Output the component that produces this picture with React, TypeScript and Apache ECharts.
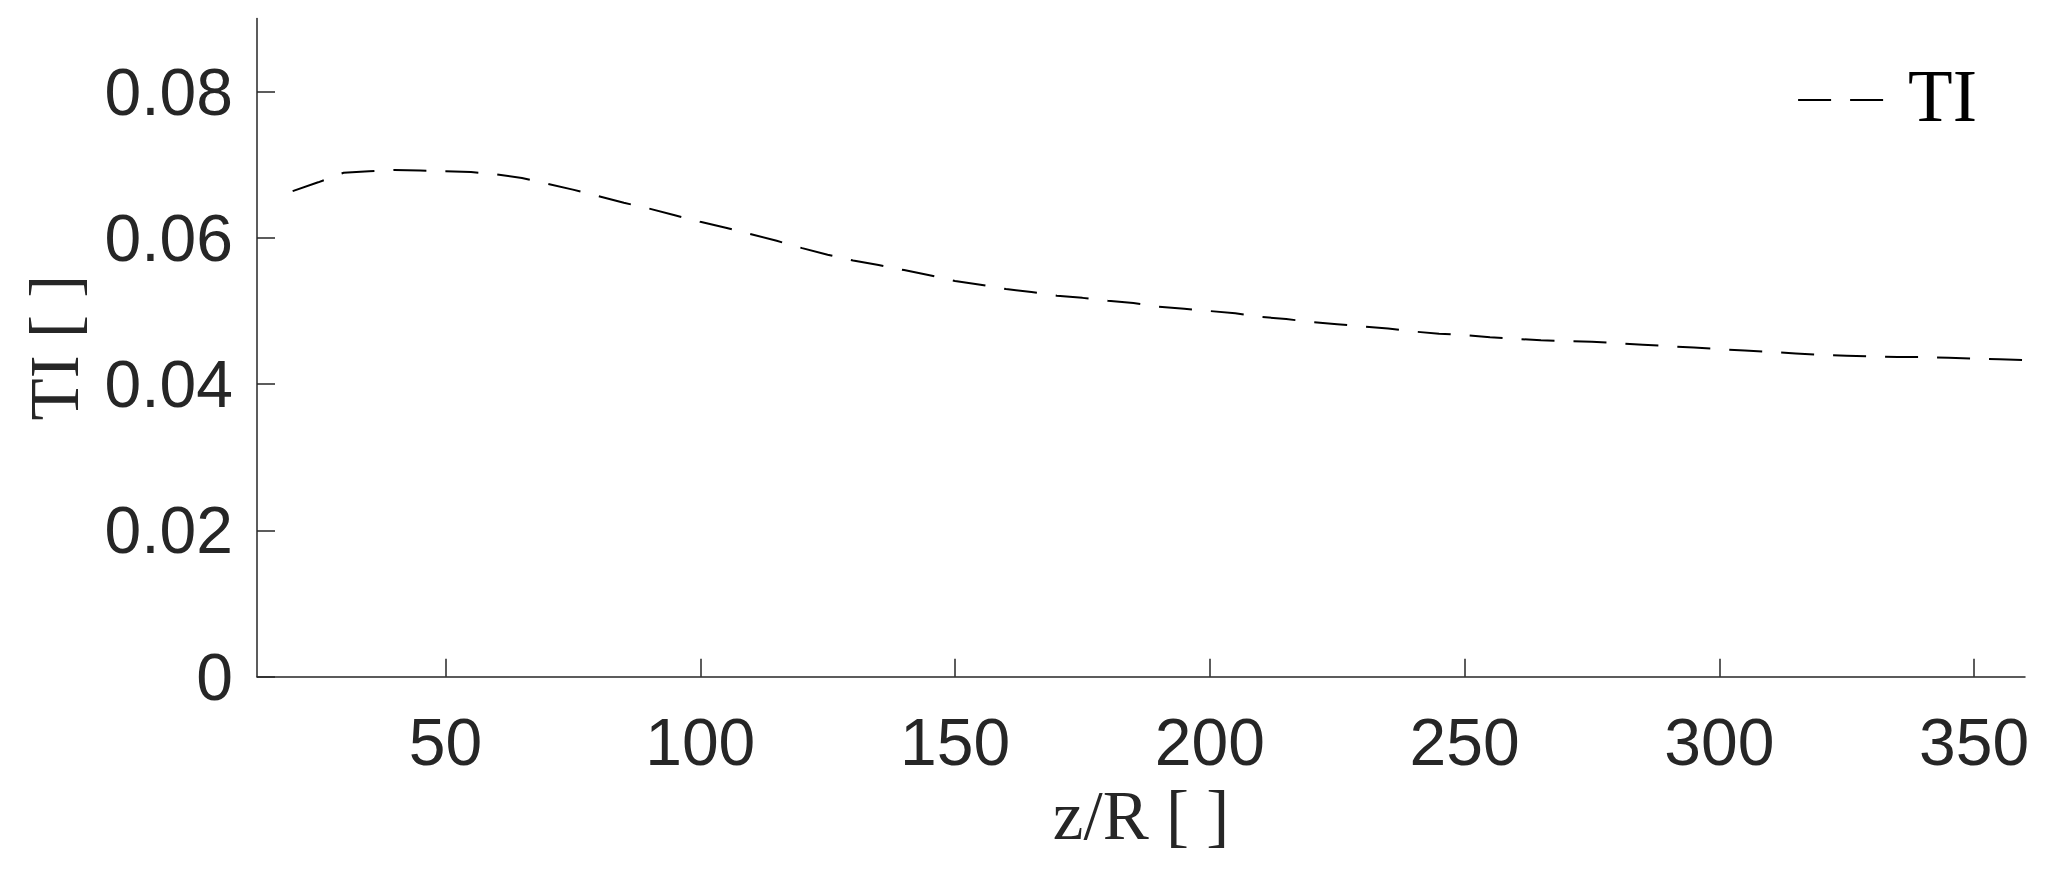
import React, { useEffect, useRef } from "react";
import * as echarts from "echarts";

const xValues = [
  20, 25, 30, 35, 40, 45, 50, 55, 60, 65, 70, 75, 80, 85, 90, 95, 100, 105, 110, 115, 120, 125, 130,
  135, 140, 145, 150, 155, 160, 165, 170, 175, 180, 185, 190, 195, 200, 205, 210, 215, 220, 225, 230,
  235, 240, 245, 250, 255, 260, 265, 270, 275, 280, 285, 290, 295, 300, 305, 310, 315, 320, 325, 330,
  335, 340, 345, 350, 355, 360,
];
const tiValues = [
  0.0664, 0.0676, 0.0689, 0.0691, 0.0693, 0.0692, 0.0691, 0.069, 0.0687, 0.0682, 0.0674, 0.0666,
  0.0657, 0.0648, 0.064, 0.0631, 0.0622, 0.0614, 0.0605, 0.0596, 0.0586, 0.0577, 0.0569, 0.0563,
  0.0556, 0.0549, 0.0541, 0.0536, 0.053, 0.0526, 0.0521, 0.0518, 0.0514, 0.0511, 0.0506, 0.0503,
  0.05, 0.0497, 0.0492, 0.0489, 0.0485, 0.0482, 0.0479, 0.0476, 0.0472, 0.0469, 0.0467, 0.0464,
  0.0462, 0.046, 0.0459, 0.0458, 0.0456, 0.0454, 0.0452, 0.045, 0.0448, 0.0446, 0.0444, 0.0442,
  0.044, 0.0439, 0.0438, 0.0437, 0.0437, 0.0436, 0.0435, 0.0434, 0.0433,
];
const xTicks = [50, 100, 150, 200, 250, 300, 350];
const yTicks = [0, 0.02, 0.04, 0.06, 0.08];
const seriesName = "TI";
const xName = "z/R [ ]";
const yName = "TI [ ]";

const AXIS_COLOR = "#262626";
const SANS = "'Liberation Sans', Arial, Helvetica, sans-serif";
const SERIF = "'Liberation Serif', 'Times New Roman', serif";
const DASH = [33, 19];

export default function App() {
  const ref = useRef<HTMLDivElement>(null);

  useEffect(() => {
    if (!ref.current) return;
    const chart = echarts.init(ref.current, undefined, { renderer: "svg" });
    const data = xValues.map((x, i) => [x, tiValues[i]]);
    chart.setOption({
      animation: false,
      backgroundColor: "#ffffff",
      grid: {
        left: 257,
        right: 22,
        top: 18.5,
        bottom: 200.3,
        containLabel: false,
        outerBoundsMode: "none",
      },
      graphic: [
        {
          type: "group",
          right: 70,
          top: 60,
          children: [
            {
              type: "line",
              shape: { x1: 0, y1: 28, x2: 87, y2: 28 },
              style: { stroke: "#000000", lineWidth: 2, lineDash: DASH },
            },
            {
              type: "text",
              x: 110,
              y: 24.5,
              style: {
                text: seriesName,
                fontFamily: SERIF,
                fontSize: 73,
                fill: "#000000",
                align: "left",
                verticalAlign: "middle",
                textAlign: "left",
                textVerticalAlign: "middle",
              },
            },
          ],
        },
      ],
      xAxis: {
        type: "value",
        min: 13,
        max: 360,
        name: xName,
        nameLocation: "middle",
        nameGap: 105,
        nameTextStyle: { fontFamily: SERIF, fontSize: 69, color: AXIS_COLOR },
        axisLine: { show: true, onZero: false, lineStyle: { color: AXIS_COLOR, width: 1.5 } },
        axisTick: {
          show: true,
          inside: true,
          length: 18,
          customValues: xTicks,
          lineStyle: { color: AXIS_COLOR, width: 1.5 },
        },
        axisLabel: {
          show: true,
          margin: 32,
          customValues: xTicks,
          fontFamily: SANS,
          fontSize: 66,
          color: AXIS_COLOR,
          formatter: (v: number) => String(v),
        },
        splitLine: { show: false },
      },
      yAxis: {
        type: "value",
        min: 0,
        max: 0.09,
        name: yName,
        nameLocation: "middle",
        nameRotate: 90,
        nameGap: 168,
        nameTextStyle: { fontFamily: SERIF, fontSize: 69, color: AXIS_COLOR },
        axisLine: { show: true, onZero: false, lineStyle: { color: AXIS_COLOR, width: 1.5 } },
        axisTick: {
          show: true,
          inside: true,
          length: 18,
          customValues: yTicks,
          lineStyle: { color: AXIS_COLOR, width: 1.5 },
        },
        axisLabel: {
          show: true,
          margin: 24,
          customValues: yTicks,
          fontFamily: SANS,
          fontSize: 66,
          color: AXIS_COLOR,
          formatter: (v: number) => (v === 0 ? "0" : v.toFixed(2)),
        },
        splitLine: { show: false },
      },
      series: [
        {
          name: seriesName,
          type: "line",
          data,
          symbol: "none",
          showSymbol: false,
          smooth: false,
          lineStyle: { color: "#000000", width: 2, type: DASH },
          itemStyle: { color: "#000000" },
        },
      ],
    });
    return () => chart.dispose();
  }, []);

  return (
    <div
      ref={ref}
      style={{ position: "fixed", left: 0, top: 0, width: 2047, height: 877, background: "#fff" }}
    />
  );
}
